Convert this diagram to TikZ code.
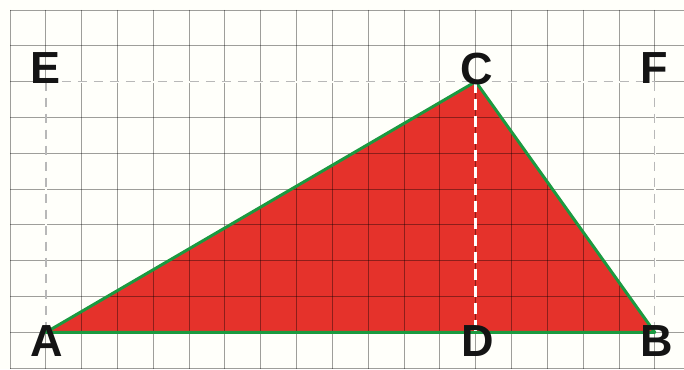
\documentclass[tikz,border=0pt]{standalone}
\usepackage{fontspec}
\setmainfont{Liberation Sans}
\begin{document}
\begin{tikzpicture}[x=1pt,y=-1pt,
  gridline/.style={black,opacity=0.38,line width=0.85pt},
  helperbase/.style={draw=white!98!yellow,line width=1.8pt},
  helper/.style={draw=black!28,line width=1.4pt,dash pattern=on 9pt off 7pt},
  height/.style={draw=white,line width=2.8pt,dash pattern=on 11pt off 6pt},
  lbl/.style={inner sep=0pt,font=\fontsize{45}{45}\selectfont\bfseries,text=black!92}]
\definecolor{triRed}{HTML}{E5322B}
\definecolor{triGreen}{HTML}{1B9A40}
\def\s{35.82}
\fill[white!98!yellow] (0,0) rectangle (684,369);
\useasboundingbox (0,0) rectangle (684,369);
% key points
\coordinate (A) at ({10+1*\s},{10+9*\s});
\coordinate (D) at ({10+13*\s},{10+9*\s});
\coordinate (B) at ({10+18*\s},{10+9*\s});
\coordinate (C) at ({10+13*\s},{10+2*\s});
\coordinate (E) at ({10+1*\s},{10+2*\s});
\coordinate (F) at ({10+18*\s},{10+2*\s});
% triangle
\fill[triRed] (A) -- (B) -- (C) -- cycle;
% grid
\foreach \k in {0,...,18} \draw[gridline] ({10+\k*\s},10) -- ({10+\k*\s},369);
\foreach \k in {0,...,10} \draw[gridline] (10,{10+\k*\s}) -- (684,{10+\k*\s});
% helper dashed lines
\draw[helperbase] (E) -- (C) (E) -- (A) (F) -- (B) (C) -- (F);
\draw[helper] (E) -- (C);
\draw[helper] (C) -- (F);
\draw[helper] (E) -- (A);
\draw[helper] (F) -- (B);
% triangle outline and height
\draw[triGreen,line width=3pt,line join=round] (A) -- (B) -- (C) -- cycle;
\draw[height] (C) -- (D);
% labels
\node[lbl,anchor=south] (lE) at ([yshift=-2pt]E) {E};
\node[lbl,anchor=south] (lC) at ([xshift=1pt,yshift=-3pt]C) {C};
\node[lbl,anchor=south] (lF) at ([xshift=-1pt,yshift=-2pt]F) {F};
\node[lbl,anchor=north] (lA) at ([xshift=1pt,yshift=7pt]A) {A};
\node[lbl,anchor=north] (lD) at ([xshift=2pt,yshift=7pt]D) {D};
\node[lbl,anchor=north] (lB) at ([xshift=2pt,yshift=7pt]B) {B};
\end{tikzpicture}
\end{document}
